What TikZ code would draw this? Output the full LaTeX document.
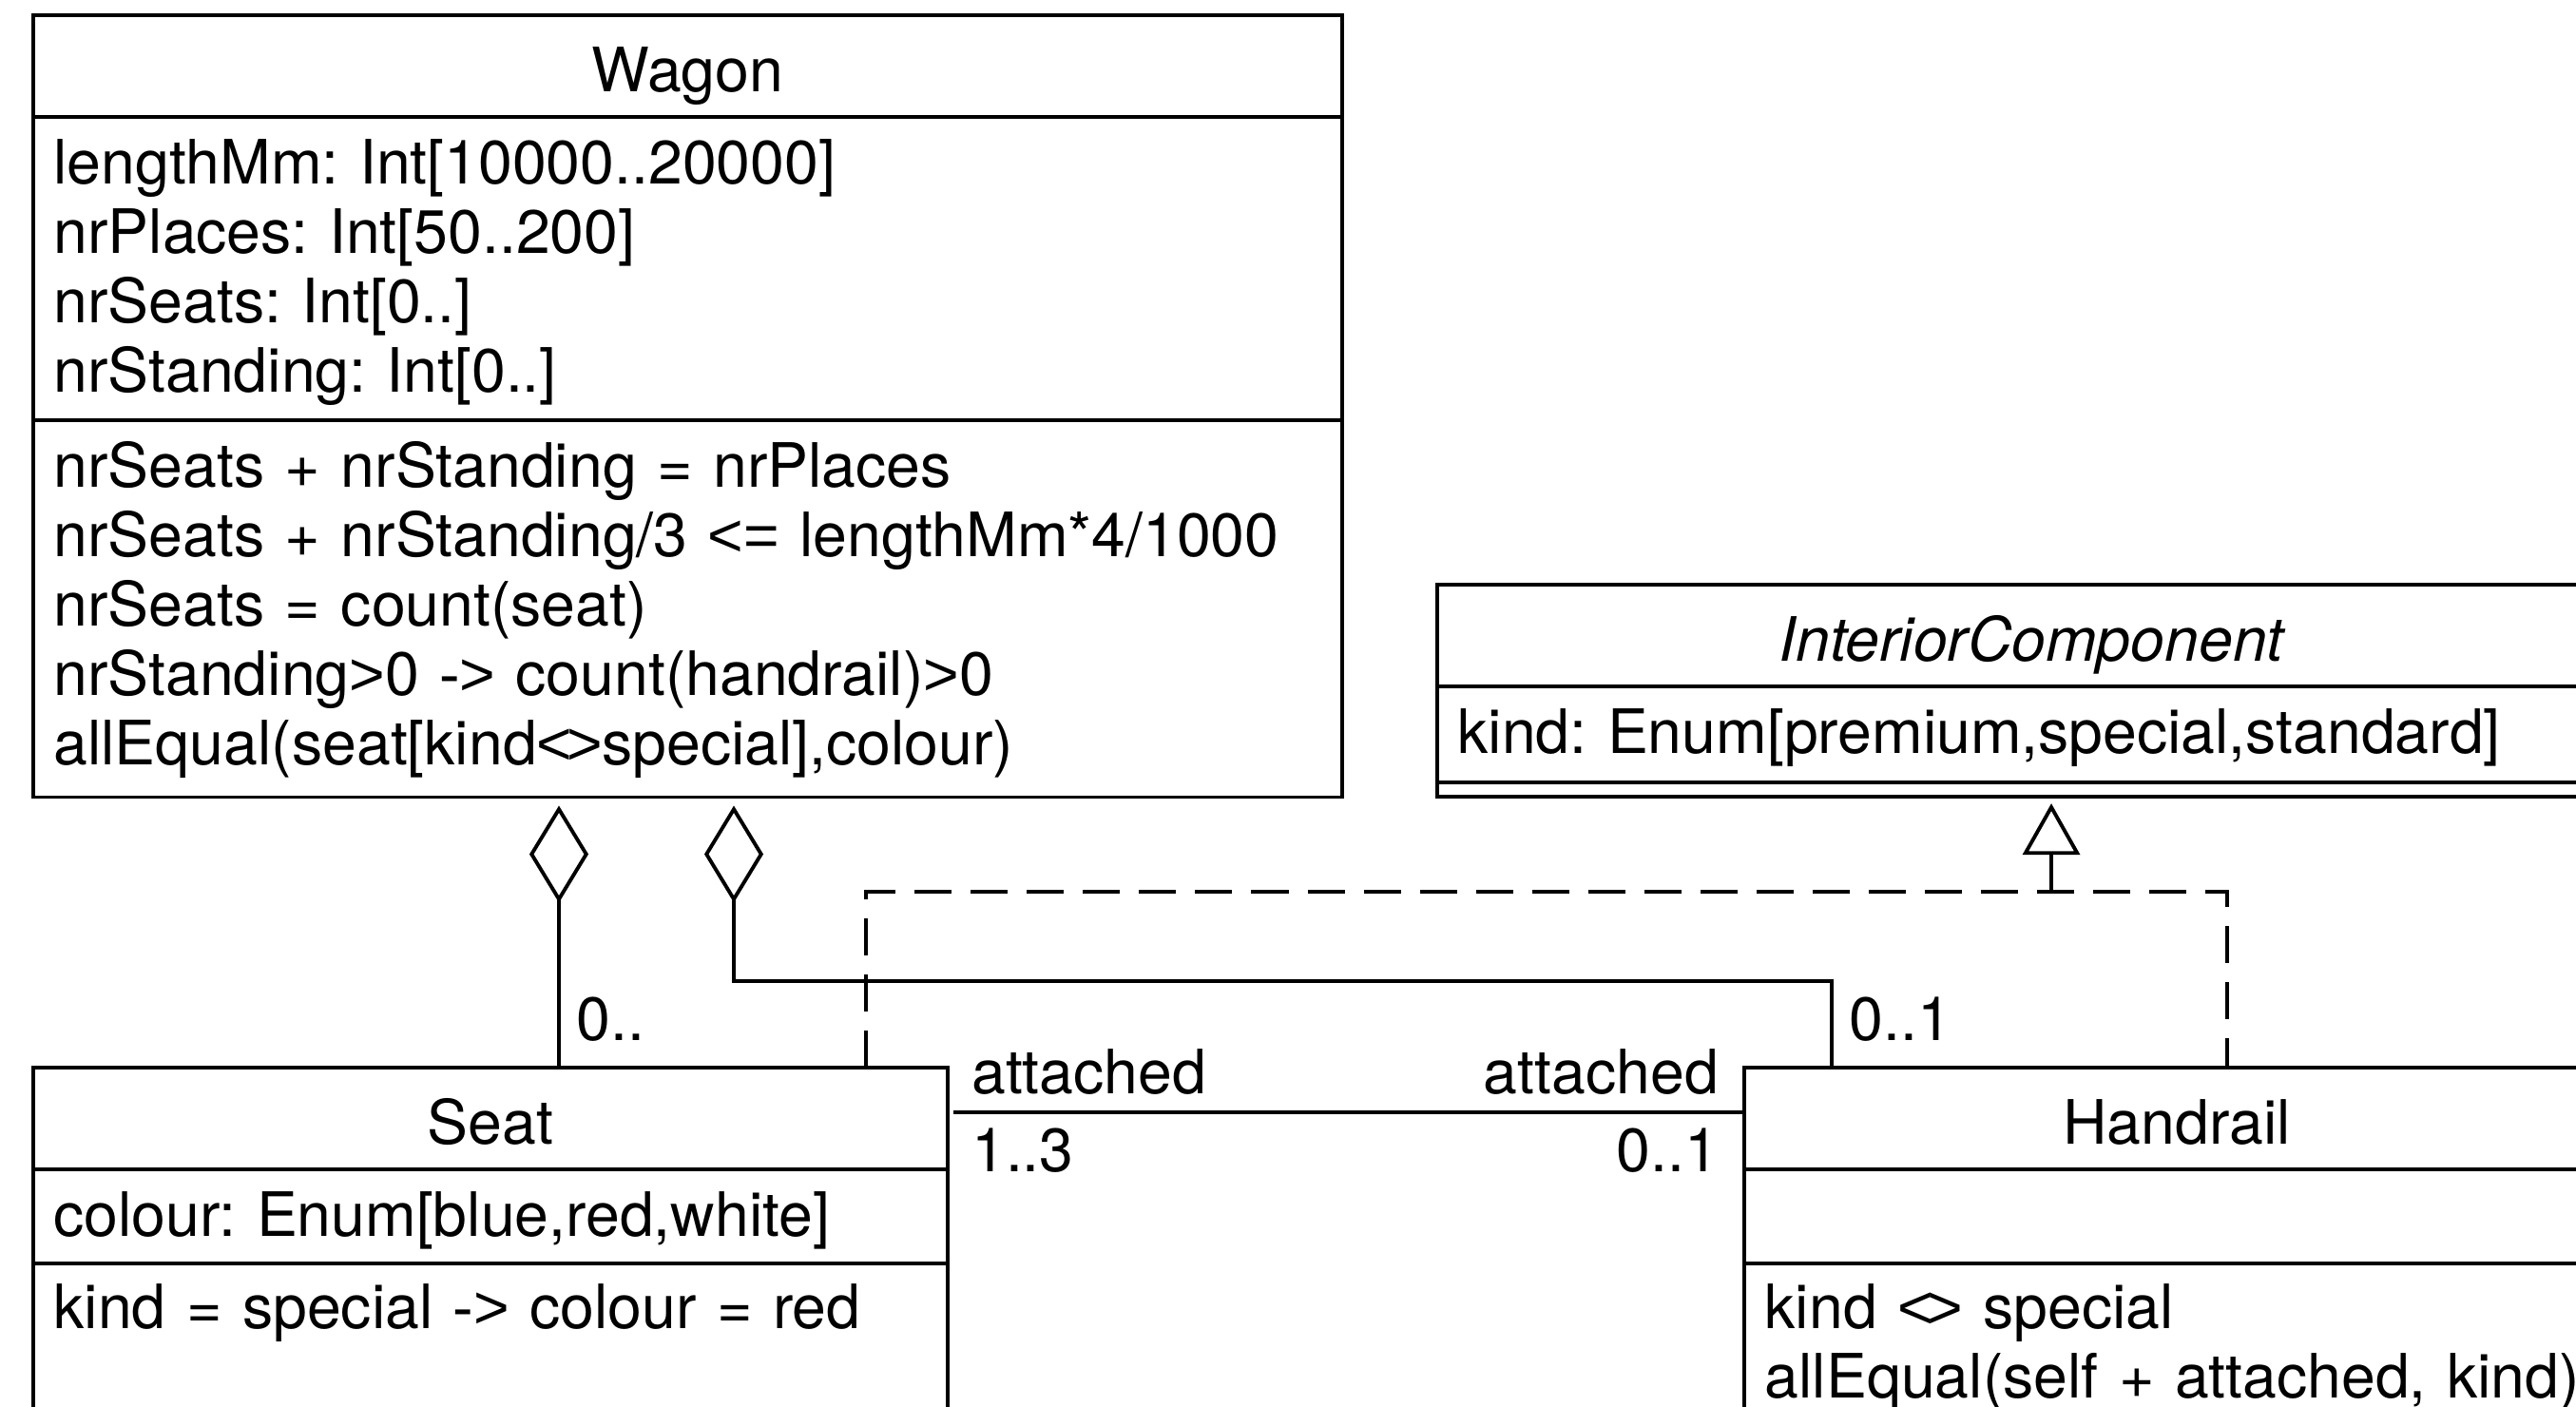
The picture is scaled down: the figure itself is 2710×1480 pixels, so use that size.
\documentclass[tikz,border=0pt]{standalone}
\usepackage{fontspec}
\setmainfont{TeX Gyre Heros}
\newfontfamily\opfont{Liberation Sans}
\usetikzlibrary{arrows.meta,positioning,calc}

% comparison signs, set close as in the constraints
\newcommand\cmpne{{\opfont<\kern-0.1em>}}
\newcommand\cmple{{\opfont<=}}
\newcommand\cmpgt{{\opfont>}}
\newcommand\cmpto{{\opfont->}}

\begin{document}
\frenchspacing
\begin{tikzpicture}[x=0.01cm,y=-0.01cm,line width=1.1pt,
    every node/.style={font=\fontsize{18.3pt}{20.8pt}\selectfont},
    part/.style={draw,rectangle,outer sep=0pt,inner xsep=0.22cm,inner ysep=0pt,align=left,anchor=north,text height=0.70cm},
    openpart/.style={part,text height=0.68cm,text depth=1.5cm},
    title/.style={part,align=center,minimum height=1.07cm,text height=0.6cm,text depth=0.06cm},
    mult/.style={inner sep=0pt},
    aggr/.style={{Diamond[open,length=1.02cm,width=0.62cm]}-,shorten <=0.09cm},
    realize/.style={-{Triangle[open,length=0.54cm,width=0.6cm]},shorten >=0.07cm},
    gen/.style={dash pattern=on 0.39cm off 0.2cm}]
    \path[use as bounding box] (0,0) rectangle (2710,1480);
    \clip (0,0) rectangle (2710,1480);

    \node[title,text width=13.33cm] (wagon-name) at (723.5,16) {Wagon};
    \node[part,text width=13.33cm,text depth=2.49cm,below=0pt of wagon-name] (wagon-attr)
        {lengthMm: Int[10000..20000]\\ nrPlaces: Int[50..200]\\ nrSeats: Int[0..]\\ nrStanding: Int[0..]};
    \node[part,text width=13.33cm,text depth=3.26cm,below=0pt of wagon-attr] (wagon-cons)
        {nrSeats + nrStanding = nrPlaces\\ nrSeats + nrStanding/3 \cmple{} lengthMm*4/1000\\
         nrSeats = count(seat)\\ nrStanding\cmpgt{}0 \cmpto{} count(handrail)\cmpgt{}0\\
         allEqual(seat[kind\cmpne{}special],colour)};

    \node[title,text width=12.06cm] (comp-name) at (2137,615) {\itshape InteriorComponent};
    \node[part,text width=12.06cm,text depth=0.31cm,below=0pt of comp-name] (comp-attr)
        {kind: Enum[premium,special,standard]};
    \node[part,text width=12.06cm,text height=0cm,text depth=0.15cm,below=0pt of comp-attr] (comp-ops) {};

    \node[title,text width=9.18cm] (seat-name) at (516,1123) {Seat};
    \node[part,text width=9.18cm,text depth=0.29cm,below=0pt of seat-name] (seat-attr)
        {colour: Enum[blue,red,white]};
    \node[openpart,text width=9.18cm,below=0pt of seat-attr] (seat-cons)
        {kind = special \cmpto{} colour = red};

    \node[title,text width=8.66cm] (rail-name) at (2290,1123) {Handrail};
    \node[part,text width=8.66cm,text depth=0.29cm,below=0pt of rail-name] (rail-attr) {};
    \node[openpart,text width=8.66cm,below=0pt of rail-attr] (rail-cons)
        {kind \cmpne{} special\\ allEqual(self + attached, kind)};

    \coordinate (wagon-seat) at (wagon-cons.south -| 588,0);
    \coordinate (seat-top) at (seat-name.north -| 588,0);
    \draw[aggr] (wagon-seat) -- (seat-top);
    \node[mult,anchor=base west] (seat-top-mult) at ($(seat-top)+(17,-29)$) {0..};

    \coordinate (wagon-rail) at (wagon-cons.south -| 772,0);
    \coordinate (rail-top) at (rail-name.north -| 1927,0);
    \draw[aggr] (wagon-rail) |- ($(rail-top)+(0,-91)$) -- (rail-top);
    \node[mult,anchor=base west] (rail-top-mult) at ($(rail-top)+(17,-29)$) {0..1};

    \coordinate (seat-link) at (seat-name.east |- 0,1170);
    \coordinate (rail-link) at (rail-name.west |- 0,1170);
    \draw[shorten <=0.06cm] (seat-link) -- (rail-link);
    \node[mult,anchor=base west] (seat-role) at ($(seat-link)+(23,-20)$) {attached};
    \node[mult,anchor=base west] (seat-mult) at ($(seat-link)+(23,62)$) {1..3};
    \node[mult,anchor=base east] (rail-role) at ($(rail-link)+(-25,-20)$) {attached};
    \node[mult,anchor=base east] (rail-mult) at ($(rail-link)+(-25,62)$) {0..1};

    \coordinate (comp-base) at (comp-ops.south -| 2158,0);
    \coordinate (gen-join) at ($(comp-base)+(0,100)$);
    \coordinate (seat-gen) at (seat-name.north -| 911,0);
    \coordinate (rail-gen) at (rail-name.north -| 2343,0);
    \draw[gen,realize] (gen-join) -- (comp-base);
    \draw[gen] (seat-gen) |- (gen-join) -| (rail-gen);
\end{tikzpicture}
\end{document}
